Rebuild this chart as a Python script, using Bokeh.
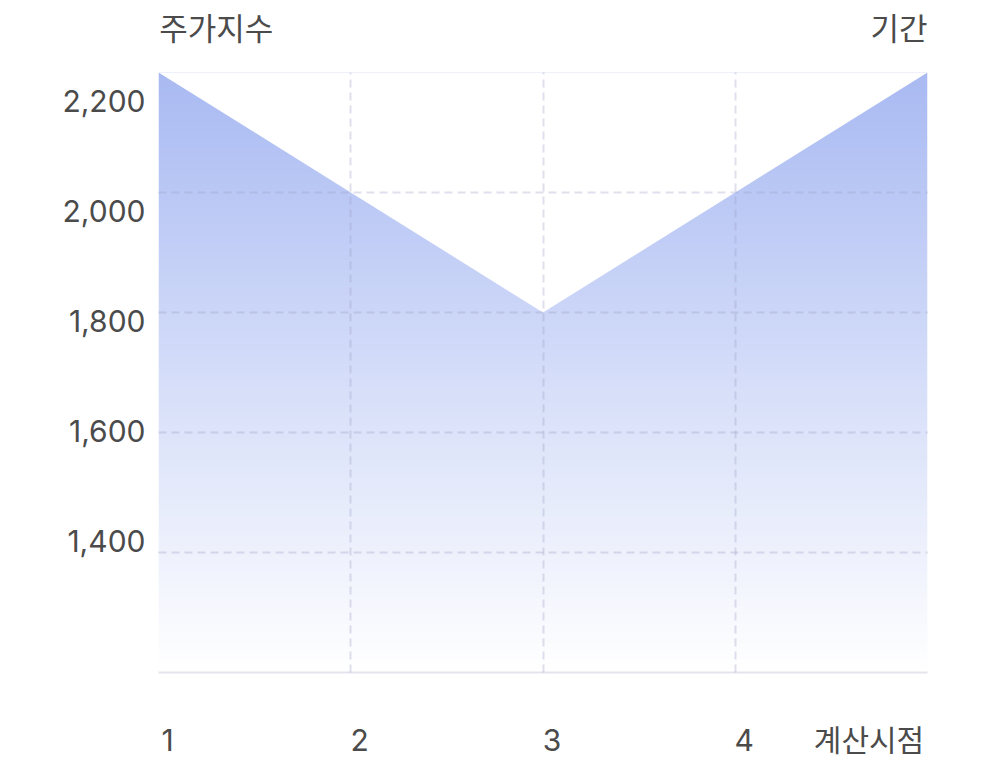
import numpy as np
from bokeh.plotting import figure
from bokeh.models import (Range1d, LinearAxis, FixedTicker, Grid,
                          NumeralTickFormatter)
from bokeh.embed import file_html
from bokeh.resources import INLINE

# ---- data ----
periods = [1, 2, 3, 4, 5]
index_values = [2200, 2000, 1800, 2000, 2200]
y_ticks = [1400, 1600, 1800, 2000, 2200]
x_ticks = [1, 2, 3, 4]
y_min, y_max = 1200, 2200
y_title = "주가지수"
x_title = "기간"
end_label = "계산시점"

# ---- style ----
TEXT = "#4b4b4b"
GRID = "#9aa0c4"
TOP_COLOR = (169, 186, 242)
FONT_NUM = "Inter, 'Noto Sans CJK KR'"
FONT_KR = "'Noto Sans CJK KR'"
W, H = 968, 760
LEFT, RIGHT, TOP, BOTTOM = 158, 41, 72, 88
frame_w = W - LEFT - RIGHT
frame_h = H - TOP - BOTTOM
px_x = frame_w / (periods[-1] - periods[0])

p = figure(width=W, height=H, output_backend="svg", toolbar_location=None,
           x_range=Range1d(periods[0], periods[-1]), y_range=Range1d(y_min, y_max),
           x_axis_location=None, y_axis_location=None,
           min_border_left=LEFT, min_border_right=RIGHT,
           min_border_top=TOP, min_border_bottom=BOTTOM)
p.outline_line_color = None
p.background_fill_color = "white"
p.border_fill_color = "white"

# gradient area: vertical gradient image, masked above the line with white
n = 256
t = np.linspace(0, 1, n)
img = np.empty((n, 1), dtype=np.uint32)
view = img.view(dtype=np.uint8).reshape((n, 1, 4))
for i, c in enumerate(TOP_COLOR):
    view[:, 0, i] = np.round(255 - (255 - c) * t).astype(np.uint8)
view[:, 0, 3] = 255
p.image_rgba(image=[img], x=periods[0], y=y_min,
             dw=periods[-1] - periods[0], dh=y_max - y_min)
p.varea(x=periods, y1=index_values, y2=[y_max] * len(periods),
        fill_color="white", fill_alpha=1.0)

# grids on top
for dim, ticks in ((0, periods), (1, y_ticks)):
    p.add_layout(Grid(dimension=dim, ticker=FixedTicker(ticks=ticks), grid_line_color=GRID,
                      grid_line_alpha=0.32, grid_line_width=2, grid_line_dash="8 5",
                      level="overlay"))

def style_axis(ax, font, size, standoff):
    ax.axis_line_color = None
    ax.major_tick_line_color = None
    ax.minor_tick_line_color = None
    ax.major_tick_out = 0
    ax.major_tick_in = 0
    ax.major_label_standoff = standoff
    ax.major_label_text_font = font
    ax.major_label_text_font_size = size
    ax.major_label_text_color = TEXT

# y labels axis (labels spread slightly differently from the grid lines)
u = 440.0 / (y_ticks[-1] - y_ticks[0])  # px per unit on the label scale
p.extra_y_ranges = {"lab": Range1d(y_ticks[-1] - (frame_h - 28) / u, y_ticks[-1] + 28 / u)}
yax = LinearAxis(y_range_name="lab", ticker=FixedTicker(ticks=y_ticks),
                 formatter=NumeralTickFormatter(format="0,0"))
style_axis(yax, FONT_NUM, "30px", 13)
p.add_layout(yax, "left")

# x labels axis: labels to the right of the grid line, end label right-aligned
shift = 9 / px_x
end_tick = periods[-1] - (58.5 + 9) / px_x
p.extra_x_ranges = {
    "labx": Range1d(periods[0] - shift, periods[-1] - shift),
    # titles above: left one starts at the frame's left, right one ends at its right
    "top": Range1d(periods[0] - 65 / px_x, periods[-1] + 32 / px_x),
}
xax = LinearAxis(x_range_name="labx", ticker=FixedTicker(ticks=x_ticks + [end_tick]),
                 major_label_overrides={end_tick: end_label})
style_axis(xax, FONT_NUM, "30px", 49)
xax.axis_line_color = "#e3e4ee"
xax.axis_line_width = 2
p.add_layout(xax, "below")

tax = LinearAxis(x_range_name="top", ticker=FixedTicker(ticks=[periods[0], periods[-1]]),
                 major_label_overrides={periods[0]: y_title, periods[-1]: x_title})
style_axis(tax, FONT_KR, "31px", 24)
p.add_layout(tax, "above")

open("out.html", "w").write(file_html(p, INLINE))
